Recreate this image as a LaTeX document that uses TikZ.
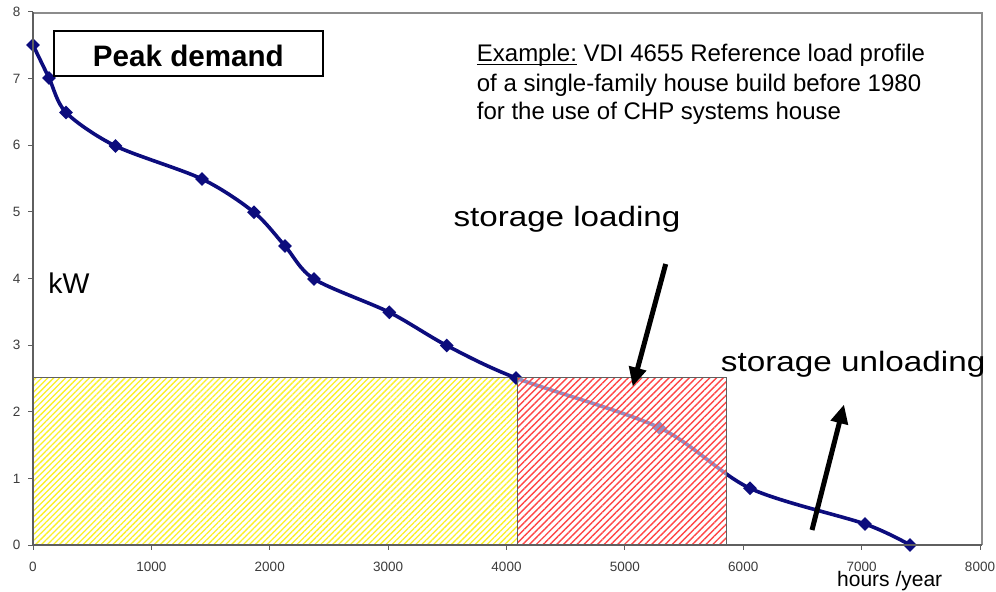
\documentclass[tikz,border=0pt]{standalone}
\usepackage{fontspec}
\setmainfont{Liberation Sans}
\usetikzlibrary{arrows.meta,patterns.meta,shapes.geometric}
\definecolor{navy}{RGB}{12,12,125}
\definecolor{axgray}{RGB}{95,95,95}
\definecolor{bordgray}{RGB}{140,140,140}
\definecolor{lblgray}{RGB}{60,60,60}
\definecolor{hatchred}{RGB}{255,70,70}
\definecolor{hatchyel}{RGB}{250,240,40}
\newcommand\fs[1]{\fontsize{#1bp}{#1bp}\selectfont}
\newcommand\myul[1]{\setbox0\hbox{#1}\rlap{\rule[-3.6bp]{\wd0}{1.4bp}}\box0\relax}
\tikzset{
  tickmark/.style={draw=axgray, line width=1bp},
  ticklbl/.style={font=\fs{13.5}, text=lblgray, inner sep=0pt},
  mk/.style={diamond, fill=navy, inner sep=0pt, minimum size=14bp},
  bigarrow/.style={line width=5bp, -{Triangle[length=19bp,width=17bp]}},
  txt/.style={inner sep=0pt, anchor=base west},
  hatchbox/.style={draw=axgray, line width=1bp}
}
\begin{document}
\begin{tikzpicture}[x=1bp,y=-1bp]
\useasboundingbox (0,0) rectangle (996,592);
\fill[white] (0,0) rectangle (996,592);
% plot frame
\draw[bordgray, line width=1.5bp] (33,13) -- (982,13) -- (982,545);
% hatched areas
\coordinate (ya) at (33,377);
\coordinate (yb) at (517,545);
\coordinate (ra) at (517,377);
\coordinate (rb) at (726.5,545);
\fill[pattern={Lines[angle=45,distance=4.2bp,line width=1.3bp]}, pattern color=hatchyel] (ya) rectangle (yb);
\draw[hatchbox] (ya) rectangle (yb);
% curve
\draw[navy, line width=3.6bp, line join=round] plot[smooth, tension=0.5] coordinates {
 (33,45) (49,78) (66,112.5) (115.5,146) (202,179) (254,212.3) (285,246) (314,279)
 (389.3,312.3) (446.7,345.5) (516,378) (659,427.5) (750,488.3) (865,524) (910,545)};
\foreach \x/\y [count=\i] in {33/45,49/78,66/112.5,115.5/146,202/179,254/212.3,285/246,314/279,389.3/312.3,446.7/345.5,516/378,659/427.5,750/488.3,865/524,910/545}
  \node[mk] (m\i) at (\x,\y) {};
% red hatched area over the curve
\fill[white, fill opacity=0.55] (ra) rectangle (rb);
\fill[pattern={Lines[angle=45,distance=4.8bp,line width=1.4bp]}, pattern color=hatchred] (ra) rectangle (rb);
\draw[hatchbox] (ra) rectangle (rb);
% axes
\draw[axgray, line width=2bp] (33,12) -- (33,545) -- (982,545);
\foreach \k in {0,...,8} {
  \draw[tickmark] ({33+118.375*\k},545) -- ({33+118.375*\k},550);
  \node[ticklbl] (xl\k) at ({33+118.375*\k},566.7) {\pgfmathparse{int(1000*\k)}\pgfmathresult};
  \draw[tickmark] (28,{545-66.625*\k}) -- (33,{545-66.625*\k});
  \node[ticklbl, anchor=east] (yl\k) at (20.5,{545-66.625*\k}) {\k};
}
% texts
\node[draw=black, line width=2bp, minimum width=268.7bp, minimum height=45.3bp, inner sep=0pt,
      text height=26.7bp, text depth=0pt, font=\fs{29.6}\bfseries] (peak) at (188.4,53.4) {Peak demand};
\node[txt, font=\fs{24}] (ex1) at (476.7,61.7) {\myul{Example:} VDI 4655 Reference load profile};
\node[txt, font=\fs{24}] (ex2) at (476.7,91.2) {of a single-family house build before 1980};
\node[txt, font=\fs{24}] (ex3) at (476.7,119.8) {for the use of CHP systems house};
\node[txt, font=\fs{28}] (load) at (453.3,226.7) {\scalebox{1.185}[1]{storage loading}};
\node[txt, font=\fs{28}] (unload) at (720.7,371.7) {\scalebox{1.188}[1]{storage unloading}};
\node[txt, font=\fs{28.5}] (kw) at (48.3,293.3) {kW};
\node[txt, font=\fs{21}] (hy) at (837,586) {hours /year};
% arrows
\coordinate (la1) at (665.7,264);
\coordinate (la2) at (632.7,386.5);
\coordinate (ua1) at (812,530);
\coordinate (ua2) at (844,404.5);
\draw[bigarrow] (la1) -- (la2);
\draw[bigarrow] (ua1) -- (ua2);
\end{tikzpicture}
\end{document}
